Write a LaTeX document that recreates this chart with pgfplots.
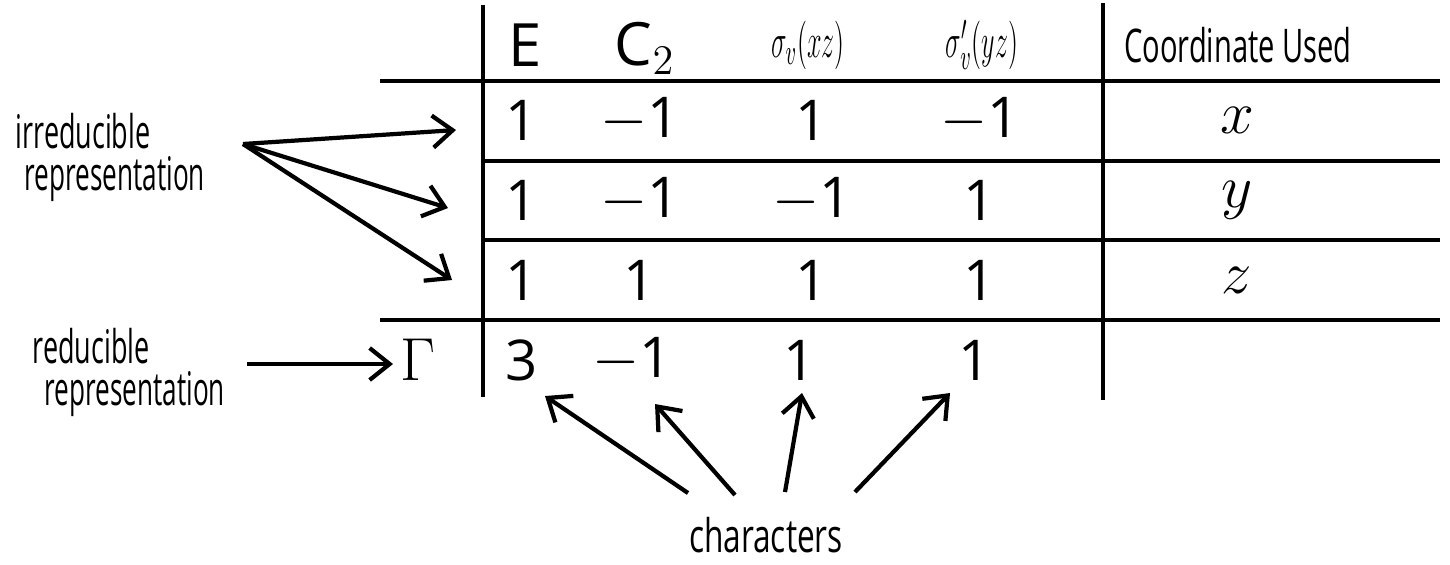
\documentclass[border=0pt]{standalone}
\usepackage{pgfplots}
\pgfplotsset{compat=1.18}
\usepackage{graphicx}
\usepackage{fontspec}
\setmainfont{Open Sans}
\usetikzlibrary{arrows.meta}
\tikzset{ln/.style={black, line width=1.2pt, solid, mark=none},
  ar/.style={ln, -{Straight Barb[length=2mm,width=3.2mm]}}}
\begin{document}
\begin{tikzpicture}
\begin{axis}[
  scale only axis, width=14.5cm, height=5.63cm,
  xmin=0, xmax=1450, ymin=0, ymax=563, y dir=reverse,
  hide axis, clip=false,
  nodes={font=\fontsize{16}{19}\selectfont},
]
% frame extent (invisible) so the picture spans the full canvas
\addplot[draw=none, mark=none] coordinates {(0,0) (1450,563)};
% table lines
\addplot[ln] coordinates {(483,5) (483,397)};
\addplot[ln] coordinates {(1103,3) (1103,400)};
\addplot[ln] coordinates {(380,81) (1440,81)};
\addplot[ln] coordinates {(481,161) (1440,161)};
\addplot[ln] coordinates {(483,240) (1440,240)};
\addplot[ln] coordinates {(380,320) (1440,320)};
% arrows irreducible
\addplot[ar] coordinates {(243,144) (456,130)};
\addplot[ar] coordinates {(243,144) (448,208)};
\addplot[ar] coordinates {(243,144) (452,280)};
% arrow reducible
\addplot[ar] coordinates {(247,364) (393,364)};
% arrows characters
\addplot[ar] coordinates {(688,493) (545,396)};
\addplot[ar] coordinates {(735,495) (655,404)};
\addplot[ar] coordinates {(785,492) (802,393)};
\addplot[ar] coordinates {(855,492) (950,393)};
% header
\node[font=\fontsize{17}{20}\selectfont] at (axis cs:525,45) {E};
\node[font=\fontsize{17}{20}\selectfont] at (axis cs:645,48) {$\mathrm{C}_2$};
\node[font=\fontsize{13}{15}\selectfont] at (axis cs:808,45) {\scalebox{0.62}[1.15]{$\sigma_v(xz)$}};
\node[font=\fontsize{13}{15}\selectfont] at (axis cs:982,45) {\scalebox{0.62}[1.15]{$\sigma_v'(yz)$}};
\node[font=\fontsize{12}{14}\selectfont] at (axis cs:1238,45) {\scalebox{0.69}[1.1]{Coordinate Used}};
% row 1
\node at (axis cs:522,120) {1};
\node at (axis cs:640,120) {$-$1};
\node at (axis cs:812,120) {1};
\node at (axis cs:980,120) {$-$1};
\node at (axis cs:1237,120) {$x$};
% row 2
\node at (axis cs:522,200) {1};
\node at (axis cs:640,200) {$-$1};
\node at (axis cs:812,200) {$-$1};
\node at (axis cs:980,200) {1};
\node at (axis cs:1237,200) {$y$};
% row 3
\node at (axis cs:522,280) {1};
\node at (axis cs:640,280) {1};
\node at (axis cs:812,280) {1};
\node at (axis cs:980,280) {1};
\node at (axis cs:1237,280) {$z$};
% Gamma row
\node[font=\fontsize{17}{20}\selectfont] at (axis cs:418,360) {$\Gamma$};
\node at (axis cs:522,360) {3};
\node at (axis cs:632,360) {$-$1};
\node at (axis cs:800,360) {1};
\node at (axis cs:975,360) {1};
% side labels
\node[font=\fontsize{12}{14}\selectfont, anchor=west, inner sep=0pt] at (axis cs:15,131) {\scalebox{0.64}[1.1]{irreducible}};
\node[font=\fontsize{12}{14}\selectfont, anchor=west, inner sep=0pt] at (axis cs:24,179) {\scalebox{0.62}[1.1]{representation}};
\node[font=\fontsize{12}{14}\selectfont, anchor=west, inner sep=0pt] at (axis cs:32,346) {\scalebox{0.64}[1.1]{reducible}};
\node[font=\fontsize{12}{14}\selectfont, anchor=west, inner sep=0pt] at (axis cs:44,394) {\scalebox{0.62}[1.1]{representation}};
\node[font=\fontsize{12}{14}\selectfont] at (axis cs:766,535) {\scalebox{0.75}[1.1]{characters}};
\end{axis}
\end{tikzpicture}
\end{document}
